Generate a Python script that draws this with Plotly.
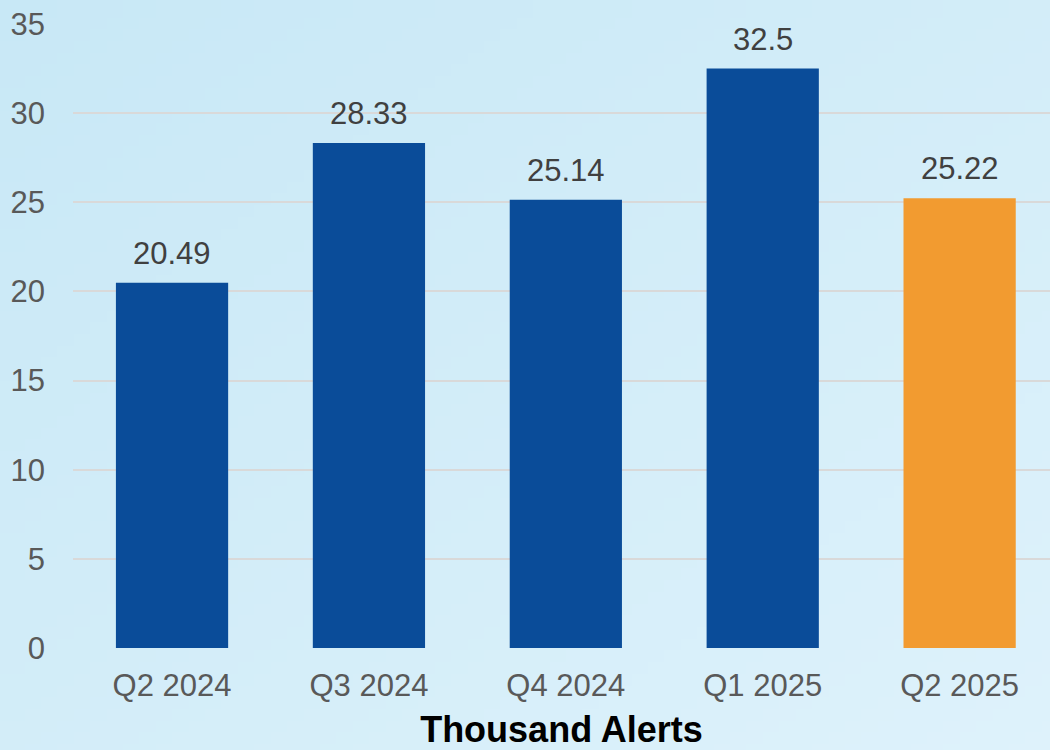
import base64, struct, zlib
import plotly.graph_objects as go

# ---- data ----
categories = ["Q2 2024", "Q3 2024", "Q4 2024", "Q1 2025", "Q2 2025"]
values = [20.49, 28.33, 25.14, 32.5, 25.22]
labels = ["20.49", "28.33", "25.14", "32.5", "25.22"]
bar_colors = ["#0a4c99", "#0a4c99", "#0a4c99", "#0a4c99", "#f29b30"]
y_ticks = [0, 5, 10, 15, 20, 25, 30, 35]
x_title = "Thousand Alerts"

# ---- background gradient image (diagonal light blue) ----
def gradient_png(w, h, c0, c1):
    rows = b""
    for j in range(h):
        row = b"\x00"
        for i in range(w):
            t = (i / (w - 1) * 0.5 + j / (h - 1) * 0.5)
            px = bytes(int(round(c0[k] + (c1[k] - c0[k]) * t)) for k in range(3))
            row += px
        rows += row
    def chunk(tag, data):
        c = struct.pack(">I", len(data)) + tag + data
        return c + struct.pack(">I", zlib.crc32(tag + data) & 0xffffffff)
    png = b"\x89PNG\r\n\x1a\n"
    png += chunk(b"IHDR", struct.pack(">IIBBBBB", w, h, 8, 2, 0, 0, 0))
    png += chunk(b"IDAT", zlib.compress(rows, 9))
    png += chunk(b"IEND", b"")
    return "data:image/png;base64," + base64.b64encode(png).decode()

bg = gradient_png(64, 64, (200, 232, 246), (222, 242, 251))

W, H = 1050, 750
ML, MR, MT, MB = 73, 0, 24, 102
pw, ph = W - ML - MR, H - MT - MB

fig = go.Figure()
fig.add_trace(go.Bar(
    x=categories, y=values, marker=dict(color=bar_colors, line=dict(width=0)),
    hoverinfo="skip", showlegend=False,
))

for c, v, t in zip(categories, values, labels):
    fig.add_annotation(x=c, y=v, text=t, showarrow=False, yanchor="bottom",
                       yshift=10, font=dict(family="Liberation Sans, Arial", size=31, color="#404040"))

fig.add_layout_image(dict(
    source=bg, xref="paper", yref="paper",
    x=-ML / pw, y=1 + MT / ph, sizex=W / pw, sizey=H / ph,
    xanchor="left", yanchor="top", sizing="stretch", layer="below",
))

fig.update_layout(
    width=W, height=H,
    margin=dict(l=ML, r=MR, t=MT, b=MB, pad=0),
    paper_bgcolor="#d3edf8", plot_bgcolor="rgba(0,0,0,0)",
    bargap=0.43,
    font=dict(family="Liberation Sans, Arial", size=31, color="#595959"),
    xaxis=dict(
        type="category", range=[-0.503, 4.459], showgrid=False, zeroline=False,
        showline=False, ticks="", ticklabelstandoff=16,
        tickfont=dict(size=31, color="#595959"),
        title=dict(text="<b>" + x_title + "</b>", standoff=19,
                   font=dict(size=36, color="#000000")),
    ),
    yaxis=dict(
        range=[0, 35], tickvals=y_ticks, showgrid=True, gridcolor="#d9d9d9",
        gridwidth=2, zeroline=False, showline=False, ticks="",
        ticklabelstandoff=27, tickfont=dict(size=31, color="#595959"),
    ),
)

fig.write_html("out.html", config={"displayModeBar": False},
               post_script="document.body.style.margin='0';document.body.style.overflow='hidden';")
